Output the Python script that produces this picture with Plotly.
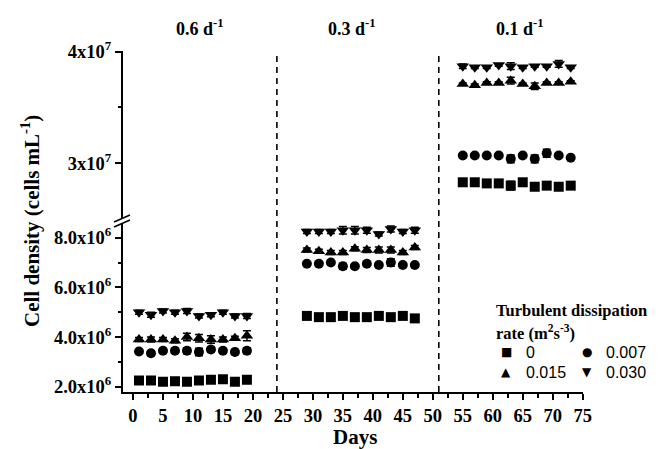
import plotly.graph_objects as go

# ---------------- data ----------------
days_06 = [1, 3, 5, 7, 9, 11, 13, 15, 17, 19]
days_03 = [29, 31, 33, 35, 37, 39, 41, 43, 45, 47]
days_01 = [55, 57, 59, 61, 63, 65, 67, 69, 71, 73]

# dilution 0.6 d-1 (cells/mL)
d06_0     = [2.25e6, 2.25e6, 2.20e6, 2.22e6, 2.20e6, 2.25e6, 2.28e6, 2.30e6, 2.20e6, 2.28e6]
d06_0007  = [3.42e6, 3.35e6, 3.45e6, 3.45e6, 3.45e6, 3.40e6, 3.50e6, 3.45e6, 3.40e6, 3.45e6]
d06_0015  = [3.90e6, 3.90e6, 3.90e6, 3.85e6, 4.00e6, 3.95e6, 3.90e6, 3.90e6, 3.95e6, 4.05e6]
d06_0030  = [5.00e6, 4.90e6, 5.05e6, 5.00e6, 5.05e6, 4.85e6, 4.90e6, 5.00e6, 4.85e6, 4.85e6]
e06_0     = [0.05e6] * 10
e06_0007  = [0.08e6, 0.10e6, 0.08e6, 0.10e6, 0.12e6, 0.15e6, 0.10e6, 0.08e6, 0.10e6, 0.12e6]
e06_0015  = [0.08e6, 0.10e6, 0.08e6, 0.08e6, 0.15e6, 0.15e6, 0.15e6, 0.10e6, 0.08e6, 0.20e6]
e06_0030  = [0.08e6, 0.10e6, 0.08e6, 0.08e6, 0.10e6, 0.08e6, 0.08e6, 0.08e6, 0.08e6, 0.10e6]

# dilution 0.3 d-1
d03_0     = [4.85e6, 4.80e6, 4.80e6, 4.85e6, 4.80e6, 4.80e6, 4.85e6, 4.80e6, 4.85e6, 4.75e6]
d03_0007  = [6.95e6, 6.95e6, 7.00e6, 6.85e6, 6.85e6, 6.95e6, 6.90e6, 7.00e6, 6.90e6, 6.90e6]
d03_0015  = [7.50e6, 7.45e6, 7.40e6, 7.40e6, 7.55e6, 7.50e6, 7.50e6, 7.50e6, 7.40e6, 7.60e6]
d03_0030  = [8.25e6, 8.25e6, 8.25e6, 8.30e6, 8.30e6, 8.30e6, 8.15e6, 8.35e6, 8.25e6, 8.30e6]
e03_0     = [0.05e6, 0.12e6, 0.12e6, 0.05e6, 0.04e6, 0.04e6, 0.05e6, 0.04e6, 0.06e6, 0.04e6]
e03_0007  = [0.05e6, 0.05e6, 0.05e6, 0.12e6, 0.08e6, 0.05e6, 0.05e6, 0.15e6, 0.05e6, 0.05e6]
e03_0015  = [0.08e6, 0.08e6, 0.08e6, 0.08e6, 0.08e6, 0.10e6, 0.12e6, 0.12e6, 0.08e6, 0.08e6]
e03_0030  = [0.08e6, 0.08e6, 0.08e6, 0.15e6, 0.15e6, 0.12e6, 0.08e6, 0.12e6, 0.08e6, 0.12e6]

# dilution 0.1 d-1
d01_0     = [2.83e7, 2.83e7, 2.82e7, 2.82e7, 2.80e7, 2.83e7, 2.79e7, 2.80e7, 2.79e7, 2.80e7]
d01_0007  = [3.07e7, 3.07e7, 3.07e7, 3.07e7, 3.04e7, 3.07e7, 3.04e7, 3.09e7, 3.07e7, 3.05e7]
d01_0015  = [3.71e7, 3.70e7, 3.72e7, 3.72e7, 3.74e7, 3.71e7, 3.69e7, 3.72e7, 3.72e7, 3.73e7]
d01_0030  = [3.87e7, 3.86e7, 3.86e7, 3.88e7, 3.87e7, 3.86e7, 3.87e7, 3.87e7, 3.89e7, 3.86e7]
e01_0     = [0.010e7, 0.015e7, 0.010e7, 0.015e7, 0.040e7, 0.020e7, 0.010e7, 0.015e7, 0.015e7, 0.010e7]
e01_0007  = [0.010e7, 0.010e7, 0.010e7, 0.010e7, 0.035e7, 0.010e7, 0.035e7, 0.035e7, 0.010e7, 0.010e7]
e01_0015  = [0.010e7, 0.010e7, 0.010e7, 0.010e7, 0.030e7, 0.010e7, 0.030e7, 0.010e7, 0.010e7, 0.010e7]
e01_0030  = [0.020e7, 0.010e7, 0.010e7, 0.010e7, 0.030e7, 0.010e7, 0.010e7, 0.010e7, 0.030e7, 0.010e7]

rates = ["0", "0.007", "0.015", "0.030"]
symbols = ["square", "circle", "triangle-up", "triangle-down"]
glyphs = ["\u25A0", "\u25CF", "\u25B2", "\u25BC"]

low_y_ticks = [2e6, 4e6, 6e6, 8e6]
low_y_text = ["2.0x10<sup>6</sup>", "4.0x10<sup>6</sup>", "6.0x10<sup>6</sup>", "8.0x10<sup>6</sup>"]
up_y_ticks = [3e7, 4e7]
up_y_text = ["3x10<sup>7</sup>", "4x10<sup>7</sup>"]

phase_bounds = [24, 51]
phase_labels = ["0.6 d<sup>-1</sup>", "0.3 d<sup>-1</sup>", "0.1 d<sup>-1</sup>"]
phase_label_x = [11.2, 36.5, 64.5]

# ---------------- figure ----------------
SERIF = "Liberation Serif"
fig = go.Figure()

panels = [
    (days_06, [d06_0, d06_0007, d06_0015, d06_0030], [e06_0, e06_0007, e06_0015, e06_0030], "y"),
    (days_03, [d03_0, d03_0007, d03_0015, d03_0030], [e03_0, e03_0007, e03_0015, e03_0030], "y"),
    (days_01, [d01_0, d01_0007, d01_0015, d01_0030], [e01_0, e01_0007, e01_0015, e01_0030], "y2"),
]
sizes = [10, 10, 11, 11]
for days, vals, errs, yax in panels:
    for i in range(4):
        fig.add_trace(go.Scatter(
            x=days, y=vals[i], mode="markers", yaxis=yax, xaxis="x",
            name=rates[i], showlegend=False,
            marker=dict(symbol=symbols[i], size=sizes[i], color="black"),
            error_y=dict(type="data", array=errs[i], visible=True,
                         color="black", thickness=1.5, width=4),
        ))

FW, FH = 660, 449
# plot area (px): x 123..583, y 51..392
L, R, T, B = 123, 583, 51, 392
W, H = R - L, B - T
def px(xp):
    return (xp - L) / W
def py(yp):
    return (B - yp) / H

low_dom = [0, py(223)]
up_dom = [py(218), 1]

axis_common = dict(showline=True, linecolor="black", linewidth=2, ticks="outside",
                   tickcolor="black", tickwidth=2, ticklen=6, showgrid=False,
                   zeroline=False, tickfont=dict(family=SERIF, size=18.5, color="black", weight="bold"))

fig.update_layout(
    width=FW, height=FH,
    margin=dict(l=L, r=FW - R, t=T, b=FH - B),
    plot_bgcolor="white", paper_bgcolor="white",
    xaxis=dict(range=[-10 / 6, 75.05], tickmode="linear", tick0=0, dtick=5,
               minor=dict(dtick=2.5, tick0=0, ticks="outside", ticklen=3.5, tickwidth=1.5, tickcolor="black"),
               anchor="y", **axis_common),
    yaxis=dict(domain=low_dom, range=[1.787e6, 8.59e6], tickmode="array",
               tickvals=low_y_ticks, ticktext=low_y_text, anchor="x",
               minor=dict(tickmode="array", tickvals=[3e6, 5e6, 7e6], ticks="outside", ticklen=3.5, tickwidth=1.5, tickcolor="black"),
               **axis_common),
    yaxis2=dict(domain=up_dom, range=[2.51e7, 4.006e7], tickmode="array",
                tickvals=up_y_ticks, ticktext=up_y_text, anchor="x",
                minor=dict(tickmode="array", tickvals=[3.5e7], ticks="outside", ticklen=3.5, tickwidth=1.5, tickcolor="black"),
                **axis_common),
)

# dashed phase separators
for xb in phase_bounds:
    fig.add_shape(type="line", xref="x", yref="paper", x0=xb, x1=xb, y0=0, y1=1,
                  line=dict(color="black", width=1.6, dash="6px,5px"))

# axis break marks
for off in [0, 5]:
    fig.add_shape(type="line", xref="paper", yref="paper",
                  x0=px(114), x1=px(130), y0=py(222 + off), y1=py(215 + off),
                  line=dict(color="black", width=1.5))

def note(x, y, text, font, xref="paper", xanchor="center", **kw):
    fig.add_annotation(x=x, y=y, xref=xref, yref="paper", text=text, showarrow=False,
                       xanchor=xanchor, yanchor="middle", font=font, **kw)

# phase labels
for xl, lab in zip(phase_label_x, phase_labels):
    note(xl, py(27), "<b>" + lab + "</b>", dict(family=SERIF, size=18, color="black"), xref="x")

# axis titles
note(px(30), py(221), "<b>Cell density (cells mL<sup>-1</sup>)</b>",
     dict(family=SERIF, size=21, color="black"), textangle=-90)
note(px(355), py(437.5), "<b>Days</b>", dict(family=SERIF, size=21, color="black"))

# legend (drawn as text)
note(px(494), py(310), "<b>Turbulent dissipation</b>",
     dict(family=SERIF, size=16.5, color="black"), xanchor="left")
note(px(494), py(332), "<b>rate (m<sup>2</sup>s<sup>-3</sup>)</b>",
     dict(family=SERIF, size=16.5, color="black"), xanchor="left")
leg_pos = [(506, 524, 352), (587, 604, 352), (506, 524, 372), (587, 604, 372)]
for (gx, tx, ty), g, r in zip(leg_pos, glyphs, rates):
    note(px(gx), py(ty), g, dict(family="DejaVu Sans", size=12, color="black"))
    note(px(tx), py(ty), r, dict(family="Liberation Sans", size=16, color="black"), xanchor="left")

fig.write_html("out.html", config={"displayModeBar": False},
               post_script="document.body.style.margin='0';document.body.style.overflow='hidden';")
